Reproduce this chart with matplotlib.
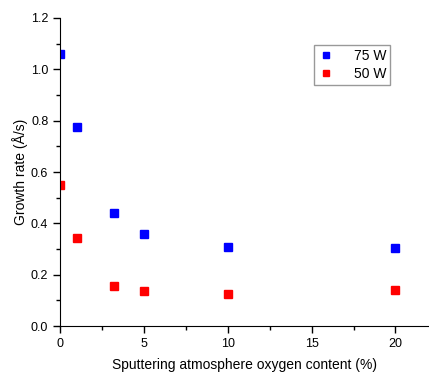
import numpy as np
import matplotlib
matplotlib.use("Agg")
import matplotlib.pyplot as plt
from matplotlib.ticker import MultipleLocator

plt.rcParams['font.family'] = ['Liberation Sans', 'DejaVu Sans']
plt.rcParams['font.size'] = 9

# oxygen content (%) and growth rate (A/s)
oxygen = [0, 1, 3.2, 5, 10, 20]
rate_75w = [1.06, 0.775, 0.44, 0.36, 0.31, 0.305]
rate_50w = [0.55, 0.345, 0.155, 0.135, 0.125, 0.14]

fig = plt.figure(figsize=(4.29, 3.74), dpi=100)
ax = fig.add_axes([0.14, 0.128, 0.86, 0.824])

ax.plot(oxygen, rate_75w, 's', color='#0000ff', markersize=6, label='75 W')
ax.plot(oxygen, rate_50w, 's', color='#ff0000', markersize=6, label='50 W')

ax.set_xlim(0, 22)
ax.set_ylim(0, 1.2)
ax.xaxis.set_major_locator(MultipleLocator(5))
ax.xaxis.set_minor_locator(MultipleLocator(2.5))
ax.yaxis.set_major_locator(MultipleLocator(0.2))
ax.yaxis.set_minor_locator(MultipleLocator(0.1))
ax.yaxis.set_major_formatter(matplotlib.ticker.FormatStrFormatter('%.1f'))

ax.spines['top'].set_visible(False)
ax.spines['right'].set_visible(False)
ax.tick_params(which='major', direction='out', length=5, width=1)
ax.tick_params(which='minor', direction='out', length=3, width=1)

ax.set_xlabel('Sputtering atmosphere oxygen content (%)', fontsize=10, labelpad=6)
ax.set_ylabel('Growth rate (Å/s)', fontsize=10, labelpad=2)

leg = ax.legend(loc='upper left', bbox_to_anchor=(0.687, 0.912), fancybox=False,
                edgecolor='#808080', fontsize=10, markerscale=0.7,
                handlelength=1.2, handletextpad=1.4, borderpad=0.3,
                labelspacing=0.25, borderaxespad=0)
leg.get_frame().set_linewidth(1)

fig.savefig('out.png', dpi=100)
